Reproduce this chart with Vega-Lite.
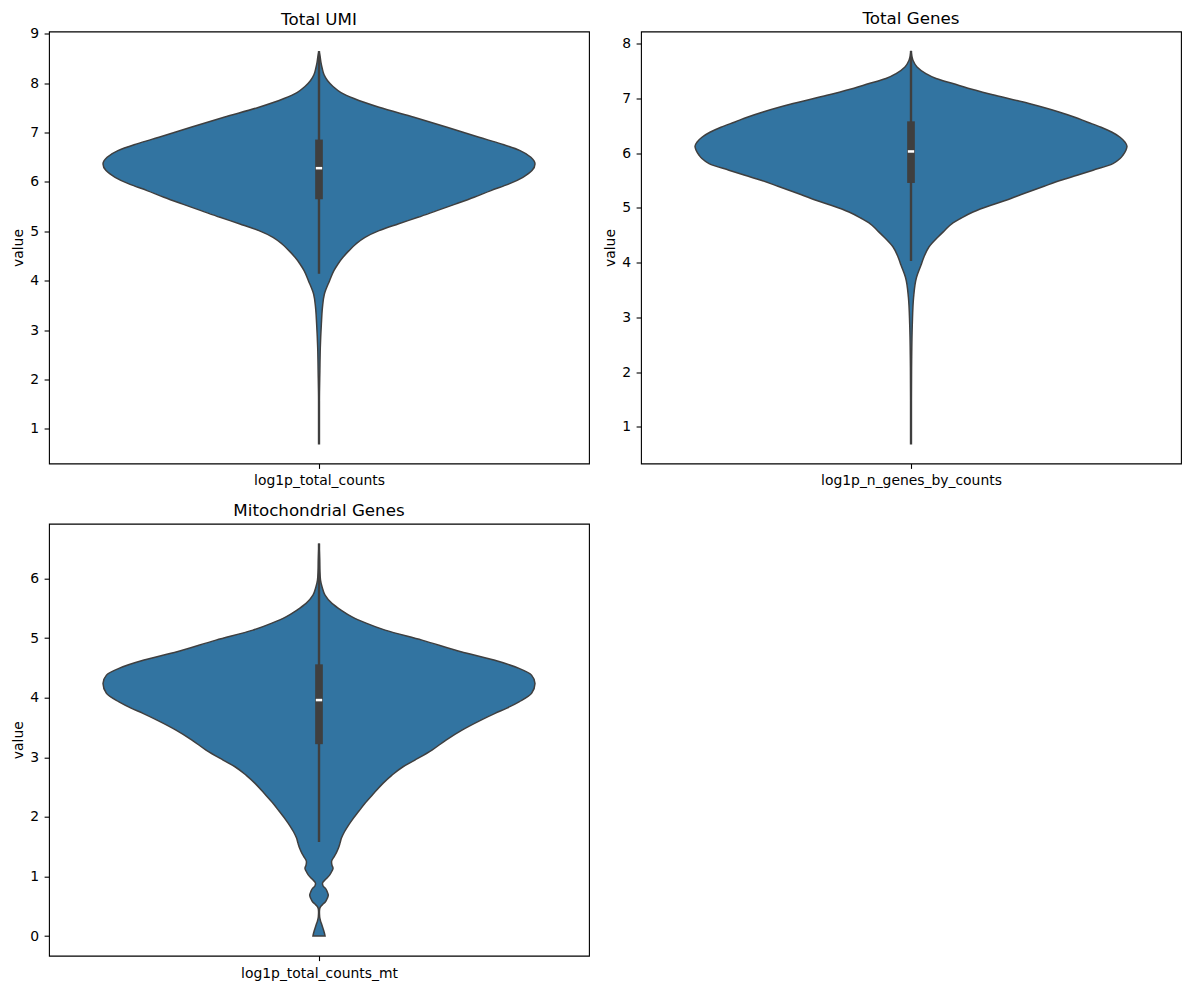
{
  "$schema": "https://vega.github.io/schema/vega-lite/v6.json",
  "background": "white",
  "padding": {"left": 10, "top": 10.5, "right": 5, "bottom": 5},
  "config": {
    "font": "DejaVu Sans",
    "view": {"stroke": "black", "strokeWidth": 1.1},
    "axis": {
      "labelFont": "DejaVu Sans", "labelFontSize": 13.9, "labelColor": "black", "labelLimit": 400,
      "tickColor": "black", "tickSize": 4.9, "tickWidth": 1.1, "labelPadding": 5.5,
      "domain": false, "grid": false,
      "titleFont": "DejaVu Sans", "titleFontSize": 13.9, "titleFontWeight": "normal", "titleColor": "black",
      "titlePadding": 4.5
    },
    "title": {"font": "DejaVu Sans", "fontSize": 16.7, "fontWeight": "normal", "color": "black", "offset": 3.6, "baseline": "alphabetic"}
  },
  "datasets": {
    "violin": [
      {"metric": "log1p_total_counts", "value": 8.651, "density": 0},
      {"metric": "log1p_total_counts", "value": 8.544, "density": 0.005},
      {"metric": "log1p_total_counts", "value": 8.422, "density": 0.009},
      {"metric": "log1p_total_counts", "value": 8.300, "density": 0.015},
      {"metric": "log1p_total_counts", "value": 8.178, "density": 0.023},
      {"metric": "log1p_total_counts", "value": 8.057, "density": 0.039},
      {"metric": "log1p_total_counts", "value": 7.935, "density": 0.065},
      {"metric": "log1p_total_counts", "value": 7.813, "density": 0.102},
      {"metric": "log1p_total_counts", "value": 7.692, "density": 0.162},
      {"metric": "log1p_total_counts", "value": 7.515, "density": 0.278},
      {"metric": "log1p_total_counts", "value": 7.312, "density": 0.440},
      {"metric": "log1p_total_counts", "value": 7.110, "density": 0.593},
      {"metric": "log1p_total_counts", "value": 6.907, "density": 0.741},
      {"metric": "log1p_total_counts", "value": 6.773, "density": 0.843},
      {"metric": "log1p_total_counts", "value": 6.637, "density": 0.931},
      {"metric": "log1p_total_counts", "value": 6.501, "density": 0.981},
      {"metric": "log1p_total_counts", "value": 6.367, "density": 1.0},
      {"metric": "log1p_total_counts", "value": 6.231, "density": 0.986},
      {"metric": "log1p_total_counts", "value": 6.095, "density": 0.944},
      {"metric": "log1p_total_counts", "value": 5.961, "density": 0.880},
      {"metric": "log1p_total_counts", "value": 5.826, "density": 0.796},
      {"metric": "log1p_total_counts", "value": 5.690, "density": 0.718},
      {"metric": "log1p_total_counts", "value": 5.556, "density": 0.634},
      {"metric": "log1p_total_counts", "value": 5.420, "density": 0.546},
      {"metric": "log1p_total_counts", "value": 5.284, "density": 0.458},
      {"metric": "log1p_total_counts", "value": 5.150, "density": 0.366},
      {"metric": "log1p_total_counts", "value": 5.014, "density": 0.278},
      {"metric": "log1p_total_counts", "value": 4.878, "density": 0.213},
      {"metric": "log1p_total_counts", "value": 4.744, "density": 0.171},
      {"metric": "log1p_total_counts", "value": 4.609, "density": 0.139},
      {"metric": "log1p_total_counts", "value": 4.473, "density": 0.111},
      {"metric": "log1p_total_counts", "value": 4.339, "density": 0.088},
      {"metric": "log1p_total_counts", "value": 4.203, "density": 0.069},
      {"metric": "log1p_total_counts", "value": 4.000, "density": 0.049},
      {"metric": "log1p_total_counts", "value": 3.730, "density": 0.025},
      {"metric": "log1p_total_counts", "value": 3.458, "density": 0.016},
      {"metric": "log1p_total_counts", "value": 3.128, "density": 0.011},
      {"metric": "log1p_total_counts", "value": 2.641, "density": 0.006},
      {"metric": "log1p_total_counts", "value": 2.174, "density": 0.004},
      {"metric": "log1p_total_counts", "value": 1.566, "density": 0.002},
      {"metric": "log1p_total_counts", "value": 0.693, "density": 0.002},

      {"metric": "log1p_n_genes_by_counts", "value": 7.865, "density": 0},
      {"metric": "log1p_n_genes_by_counts", "value": 7.695, "density": 0.009},
      {"metric": "log1p_n_genes_by_counts", "value": 7.573, "density": 0.028},
      {"metric": "log1p_n_genes_by_counts", "value": 7.452, "density": 0.069},
      {"metric": "log1p_n_genes_by_counts", "value": 7.361, "density": 0.116},
      {"metric": "log1p_n_genes_by_counts", "value": 7.270, "density": 0.194},
      {"metric": "log1p_n_genes_by_counts", "value": 7.184, "density": 0.264},
      {"metric": "log1p_n_genes_by_counts", "value": 7.056, "density": 0.389},
      {"metric": "log1p_n_genes_by_counts", "value": 6.905, "density": 0.546},
      {"metric": "log1p_n_genes_by_counts", "value": 6.751, "density": 0.685},
      {"metric": "log1p_n_genes_by_counts", "value": 6.660, "density": 0.755},
      {"metric": "log1p_n_genes_by_counts", "value": 6.569, "density": 0.815},
      {"metric": "log1p_n_genes_by_counts", "value": 6.472, "density": 0.880},
      {"metric": "log1p_n_genes_by_counts", "value": 6.380, "density": 0.931},
      {"metric": "log1p_n_genes_by_counts", "value": 6.289, "density": 0.968},
      {"metric": "log1p_n_genes_by_counts", "value": 6.198, "density": 0.991},
      {"metric": "log1p_n_genes_by_counts", "value": 6.125, "density": 1.0},
      {"metric": "log1p_n_genes_by_counts", "value": 6.052, "density": 0.995},
      {"metric": "log1p_n_genes_by_counts", "value": 5.961, "density": 0.981},
      {"metric": "log1p_n_genes_by_counts", "value": 5.900, "density": 0.968},
      {"metric": "log1p_n_genes_by_counts", "value": 5.809, "density": 0.935},
      {"metric": "log1p_n_genes_by_counts", "value": 5.687, "density": 0.843},
      {"metric": "log1p_n_genes_by_counts", "value": 5.595, "density": 0.769},
      {"metric": "log1p_n_genes_by_counts", "value": 5.504, "density": 0.694},
      {"metric": "log1p_n_genes_by_counts", "value": 5.395, "density": 0.616},
      {"metric": "log1p_n_genes_by_counts", "value": 5.261, "density": 0.523},
      {"metric": "log1p_n_genes_by_counts", "value": 5.139, "density": 0.440},
      {"metric": "log1p_n_genes_by_counts", "value": 5.048, "density": 0.370},
      {"metric": "log1p_n_genes_by_counts", "value": 4.925, "density": 0.287},
      {"metric": "log1p_n_genes_by_counts", "value": 4.810, "density": 0.231},
      {"metric": "log1p_n_genes_by_counts", "value": 4.714, "density": 0.190},
      {"metric": "log1p_n_genes_by_counts", "value": 4.591, "density": 0.157},
      {"metric": "log1p_n_genes_by_counts", "value": 4.469, "density": 0.125},
      {"metric": "log1p_n_genes_by_counts", "value": 4.286, "density": 0.083},
      {"metric": "log1p_n_genes_by_counts", "value": 4.104, "density": 0.060},
      {"metric": "log1p_n_genes_by_counts", "value": 3.952, "density": 0.046},
      {"metric": "log1p_n_genes_by_counts", "value": 3.737, "density": 0.026},
      {"metric": "log1p_n_genes_by_counts", "value": 3.368, "density": 0.012},
      {"metric": "log1p_n_genes_by_counts", "value": 2.875, "density": 0.006},
      {"metric": "log1p_n_genes_by_counts", "value": 2.218, "density": 0.003},
      {"metric": "log1p_n_genes_by_counts", "value": 1.487, "density": 0.002},
      {"metric": "log1p_n_genes_by_counts", "value": 0.693, "density": 0.002},

      {"metric": "log1p_total_counts_mt", "value": 6.589, "density": 0},
      {"metric": "log1p_total_counts_mt", "value": 6.309, "density": 0.003},
      {"metric": "log1p_total_counts_mt", "value": 6.141, "density": 0.004},
      {"metric": "log1p_total_counts_mt", "value": 5.973, "density": 0.007},
      {"metric": "log1p_total_counts_mt", "value": 5.861, "density": 0.014},
      {"metric": "log1p_total_counts_mt", "value": 5.721, "density": 0.028},
      {"metric": "log1p_total_counts_mt", "value": 5.582, "density": 0.060},
      {"metric": "log1p_total_counts_mt", "value": 5.470, "density": 0.102},
      {"metric": "log1p_total_counts_mt", "value": 5.357, "density": 0.153},
      {"metric": "log1p_total_counts_mt", "value": 5.252, "density": 0.218},
      {"metric": "log1p_total_counts_mt", "value": 5.134, "density": 0.306},
      {"metric": "log1p_total_counts_mt", "value": 4.966, "density": 0.477},
      {"metric": "log1p_total_counts_mt", "value": 4.770, "density": 0.657},
      {"metric": "log1p_total_counts_mt", "value": 4.631, "density": 0.810},
      {"metric": "log1p_total_counts_mt", "value": 4.492, "density": 0.926},
      {"metric": "log1p_total_counts_mt", "value": 4.379, "density": 0.984},
      {"metric": "log1p_total_counts_mt", "value": 4.240, "density": 1.0},
      {"metric": "log1p_total_counts_mt", "value": 4.072, "density": 0.984},
      {"metric": "log1p_total_counts_mt", "value": 3.931, "density": 0.926},
      {"metric": "log1p_total_counts_mt", "value": 3.826, "density": 0.870},
      {"metric": "log1p_total_counts_mt", "value": 3.737, "density": 0.815},
      {"metric": "log1p_total_counts_mt", "value": 3.624, "density": 0.750},
      {"metric": "log1p_total_counts_mt", "value": 3.456, "density": 0.662},
      {"metric": "log1p_total_counts_mt", "value": 3.289, "density": 0.588},
      {"metric": "log1p_total_counts_mt", "value": 3.121, "density": 0.523},
      {"metric": "log1p_total_counts_mt", "value": 2.953, "density": 0.444},
      {"metric": "log1p_total_counts_mt", "value": 2.841, "density": 0.389},
      {"metric": "log1p_total_counts_mt", "value": 2.701, "density": 0.338},
      {"metric": "log1p_total_counts_mt", "value": 2.562, "density": 0.296},
      {"metric": "log1p_total_counts_mt", "value": 2.399, "density": 0.255},
      {"metric": "log1p_total_counts_mt", "value": 2.227, "density": 0.213},
      {"metric": "log1p_total_counts_mt", "value": 2.097, "density": 0.185},
      {"metric": "log1p_total_counts_mt", "value": 1.946, "density": 0.153},
      {"metric": "log1p_total_counts_mt", "value": 1.846, "density": 0.134},
      {"metric": "log1p_total_counts_mt", "value": 1.750, "density": 0.118},
      {"metric": "log1p_total_counts_mt", "value": 1.644, "density": 0.104},
      {"metric": "log1p_total_counts_mt", "value": 1.555, "density": 0.097},
      {"metric": "log1p_total_counts_mt", "value": 1.477, "density": 0.090},
      {"metric": "log1p_total_counts_mt", "value": 1.388, "density": 0.079},
      {"metric": "log1p_total_counts_mt", "value": 1.326, "density": 0.069},
      {"metric": "log1p_total_counts_mt", "value": 1.247, "density": 0.058},
      {"metric": "log1p_total_counts_mt", "value": 1.191, "density": 0.060},
      {"metric": "log1p_total_counts_mt", "value": 1.136, "density": 0.065},
      {"metric": "log1p_total_counts_mt", "value": 1.091, "density": 0.060},
      {"metric": "log1p_total_counts_mt", "value": 1.023, "density": 0.049},
      {"metric": "log1p_total_counts_mt", "value": 0.956, "density": 0.032},
      {"metric": "log1p_total_counts_mt", "value": 0.884, "density": 0.016},
      {"metric": "log1p_total_counts_mt", "value": 0.839, "density": 0.019},
      {"metric": "log1p_total_counts_mt", "value": 0.800, "density": 0.030},
      {"metric": "log1p_total_counts_mt", "value": 0.743, "density": 0.038},
      {"metric": "log1p_total_counts_mt", "value": 0.688, "density": 0.043},
      {"metric": "log1p_total_counts_mt", "value": 0.638, "density": 0.039},
      {"metric": "log1p_total_counts_mt", "value": 0.576, "density": 0.030},
      {"metric": "log1p_total_counts_mt", "value": 0.537, "density": 0.019},
      {"metric": "log1p_total_counts_mt", "value": 0.492, "density": 0.007},
      {"metric": "log1p_total_counts_mt", "value": 0.453, "density": 0.003},
      {"metric": "log1p_total_counts_mt", "value": 0.403, "density": 0.002},
      {"metric": "log1p_total_counts_mt", "value": 0.324, "density": 0.003},
      {"metric": "log1p_total_counts_mt", "value": 0.285, "density": 0.005},
      {"metric": "log1p_total_counts_mt", "value": 0.240, "density": 0.008},
      {"metric": "log1p_total_counts_mt", "value": 0.201, "density": 0.012},
      {"metric": "log1p_total_counts_mt", "value": 0.156, "density": 0.016},
      {"metric": "log1p_total_counts_mt", "value": 0.101, "density": 0.021},
      {"metric": "log1p_total_counts_mt", "value": 0.050, "density": 0.025},
      {"metric": "log1p_total_counts_mt", "value": 0.0, "density": 0.028}
    ],
    "box": [
      {"metric": "log1p_total_counts", "whislo": 4.14, "q1": 5.65, "median": 6.28, "q3": 6.86, "whishi": 8.651},
      {"metric": "log1p_n_genes_by_counts", "whislo": 4.03, "q1": 5.455, "median": 6.03, "q3": 6.58, "whishi": 7.865},
      {"metric": "log1p_total_counts_mt", "whislo": 1.58, "q1": 3.22, "median": 3.96, "q3": 4.56, "whishi": 6.589}
    ]
  },
  "vconcat": [
    {
      "hconcat": [
        {
          "title": {"text": "Total UMI", "offset": -1.4},
          "width": 540, "height": 432,
          "layer": [
            {
              "data": {"name": "violin"},
              "transform": [{"filter": "datum.metric === 'log1p_total_counts'"}],
              "mark": {"type": "area", "orient": "horizontal", "interpolate": "monotone", "fill": "#3274a1", "stroke": "#3f3f3f", "strokeWidth": 1.5},
              "encoding": {
                "y": {"field": "value", "type": "quantitative", "scale": {"domain": [0.295, 9.05], "nice": false, "zero": false}, "axis": {"values": [1, 2, 3, 4, 5, 6, 7, 8, 9], "title": "value"}},
                "x": {"field": "density", "type": "quantitative", "stack": "center", "scale": {"domain": [-0.125, 1.125], "nice": false, "zero": false}, "axis": {"values": [0.5], "labelExpr": "'log1p_total_counts'", "title": null}}
              }
            },
            {
              "data": {"name": "box"},
              "transform": [{"filter": "datum.metric === 'log1p_total_counts'"}],
              "mark": {"type": "rule", "color": "#3f3f3f", "strokeWidth": 2.4},
              "encoding": {
                "y": {"field": "whislo", "type": "quantitative", "scale": {"domain": [0.295, 9.05], "nice": false, "zero": false}, "axis": {"values": [1, 2, 3, 4, 5, 6, 7, 8, 9], "title": "value"}},
                "y2": {"field": "whishi"},
                "x": {"datum": 0.5, "type": "quantitative", "scale": {"domain": [-0.125, 1.125], "nice": false, "zero": false}, "axis": {"values": [0.5], "labelExpr": "'log1p_total_counts'", "title": null}}
              }
            },
            {
              "data": {"name": "box"},
              "transform": [{"filter": "datum.metric === 'log1p_total_counts'"}],
              "mark": {"type": "rule", "color": "#3f3f3f", "strokeWidth": 7.7},
              "encoding": {
                "y": {"field": "q1", "type": "quantitative", "scale": {"domain": [0.295, 9.05], "nice": false, "zero": false}, "axis": {"values": [1, 2, 3, 4, 5, 6, 7, 8, 9], "title": "value"}},
                "y2": {"field": "q3"},
                "x": {"datum": 0.5, "type": "quantitative", "scale": {"domain": [-0.125, 1.125], "nice": false, "zero": false}, "axis": {"values": [0.5], "labelExpr": "'log1p_total_counts'", "title": null}}
              }
            },
            {
              "data": {"name": "box"},
              "transform": [{"filter": "datum.metric === 'log1p_total_counts'"}],
              "mark": {"type": "point", "shape": "M-1,-0.4L1,-0.4L1,0.4L-1,0.4Z", "size": 40, "filled": true, "color": "white", "opacity": 1},
              "encoding": {
                "y": {"field": "median", "type": "quantitative", "scale": {"domain": [0.295, 9.05], "nice": false, "zero": false}, "axis": {"values": [1, 2, 3, 4, 5, 6, 7, 8, 9], "title": "value"}},
                "x": {"datum": 0.5, "type": "quantitative", "scale": {"domain": [-0.125, 1.125], "nice": false, "zero": false}, "axis": {"values": [0.5], "labelExpr": "'log1p_total_counts'", "title": null}}
              }
            }
          ]
        },
        {
          "title": {"text": "Total Genes", "offset": 3.6},
          "width": 540, "height": 432,
          "layer": [
            {
              "data": {"name": "violin"},
              "transform": [{"filter": "datum.metric === 'log1p_n_genes_by_counts'"}],
              "mark": {"type": "area", "orient": "horizontal", "interpolate": "monotone", "fill": "#3274a1", "stroke": "#3f3f3f", "strokeWidth": 1.5},
              "encoding": {
                "y": {"field": "value", "type": "quantitative", "scale": {"domain": [0.333, 8.22], "nice": false, "zero": false}, "axis": {"values": [1, 2, 3, 4, 5, 6, 7, 8], "title": "value"}},
                "x": {"field": "density", "type": "quantitative", "stack": "center", "scale": {"domain": [-0.125, 1.125], "nice": false, "zero": false}, "axis": {"values": [0.5], "labelExpr": "'log1p_n_genes_by_counts'", "title": null}}
              }
            },
            {
              "data": {"name": "box"},
              "transform": [{"filter": "datum.metric === 'log1p_n_genes_by_counts'"}],
              "mark": {"type": "rule", "color": "#3f3f3f", "strokeWidth": 2.4},
              "encoding": {
                "y": {"field": "whislo", "type": "quantitative", "scale": {"domain": [0.333, 8.22], "nice": false, "zero": false}, "axis": {"values": [1, 2, 3, 4, 5, 6, 7, 8], "title": "value"}},
                "y2": {"field": "whishi"},
                "x": {"datum": 0.5, "type": "quantitative", "scale": {"domain": [-0.125, 1.125], "nice": false, "zero": false}, "axis": {"values": [0.5], "labelExpr": "'log1p_n_genes_by_counts'", "title": null}}
              }
            },
            {
              "data": {"name": "box"},
              "transform": [{"filter": "datum.metric === 'log1p_n_genes_by_counts'"}],
              "mark": {"type": "rule", "color": "#3f3f3f", "strokeWidth": 7.7},
              "encoding": {
                "y": {"field": "q1", "type": "quantitative", "scale": {"domain": [0.333, 8.22], "nice": false, "zero": false}, "axis": {"values": [1, 2, 3, 4, 5, 6, 7, 8], "title": "value"}},
                "y2": {"field": "q3"},
                "x": {"datum": 0.5, "type": "quantitative", "scale": {"domain": [-0.125, 1.125], "nice": false, "zero": false}, "axis": {"values": [0.5], "labelExpr": "'log1p_n_genes_by_counts'", "title": null}}
              }
            },
            {
              "data": {"name": "box"},
              "transform": [{"filter": "datum.metric === 'log1p_n_genes_by_counts'"}],
              "mark": {"type": "point", "shape": "M-1,-0.4L1,-0.4L1,0.4L-1,0.4Z", "size": 40, "filled": true, "color": "white", "opacity": 1},
              "encoding": {
                "y": {"field": "median", "type": "quantitative", "scale": {"domain": [0.333, 8.22], "nice": false, "zero": false}, "axis": {"values": [1, 2, 3, 4, 5, 6, 7, 8], "title": "value"}},
                "x": {"datum": 0.5, "type": "quantitative", "scale": {"domain": [-0.125, 1.125], "nice": false, "zero": false}, "axis": {"values": [0.5], "labelExpr": "'log1p_n_genes_by_counts'", "title": null}}
              }
            }
          ]
        }
      ],
      "spacing": 12
    },
    {
      "hconcat": [
        {
          "title": {"text": "Mitochondrial Genes", "offset": 3.6},
          "width": 540, "height": 432,
          "layer": [
            {
              "data": {"name": "violin"},
              "transform": [{"filter": "datum.metric === 'log1p_total_counts_mt'"}],
              "mark": {"type": "area", "orient": "horizontal", "interpolate": "monotone", "fill": "#3274a1", "stroke": "#3f3f3f", "strokeWidth": 1.5},
              "encoding": {
                "y": {"field": "value", "type": "quantitative", "scale": {"domain": [-0.33, 6.92], "nice": false, "zero": false}, "axis": {"values": [0, 1, 2, 3, 4, 5, 6], "title": "value"}},
                "x": {"field": "density", "type": "quantitative", "stack": "center", "scale": {"domain": [-0.125, 1.125], "nice": false, "zero": false}, "axis": {"values": [0.5], "labelExpr": "'log1p_total_counts_mt'", "title": null}}
              }
            },
            {
              "data": {"name": "box"},
              "transform": [{"filter": "datum.metric === 'log1p_total_counts_mt'"}],
              "mark": {"type": "rule", "color": "#3f3f3f", "strokeWidth": 2.4},
              "encoding": {
                "y": {"field": "whislo", "type": "quantitative", "scale": {"domain": [-0.33, 6.92], "nice": false, "zero": false}, "axis": {"values": [0, 1, 2, 3, 4, 5, 6], "title": "value"}},
                "y2": {"field": "whishi"},
                "x": {"datum": 0.5, "type": "quantitative", "scale": {"domain": [-0.125, 1.125], "nice": false, "zero": false}, "axis": {"values": [0.5], "labelExpr": "'log1p_total_counts_mt'", "title": null}}
              }
            },
            {
              "data": {"name": "box"},
              "transform": [{"filter": "datum.metric === 'log1p_total_counts_mt'"}],
              "mark": {"type": "rule", "color": "#3f3f3f", "strokeWidth": 7.7},
              "encoding": {
                "y": {"field": "q1", "type": "quantitative", "scale": {"domain": [-0.33, 6.92], "nice": false, "zero": false}, "axis": {"values": [0, 1, 2, 3, 4, 5, 6], "title": "value"}},
                "y2": {"field": "q3"},
                "x": {"datum": 0.5, "type": "quantitative", "scale": {"domain": [-0.125, 1.125], "nice": false, "zero": false}, "axis": {"values": [0.5], "labelExpr": "'log1p_total_counts_mt'", "title": null}}
              }
            },
            {
              "data": {"name": "box"},
              "transform": [{"filter": "datum.metric === 'log1p_total_counts_mt'"}],
              "mark": {"type": "point", "shape": "M-1,-0.4L1,-0.4L1,0.4L-1,0.4Z", "size": 40, "filled": true, "color": "white", "opacity": 1},
              "encoding": {
                "y": {"field": "median", "type": "quantitative", "scale": {"domain": [-0.33, 6.92], "nice": false, "zero": false}, "axis": {"values": [0, 1, 2, 3, 4, 5, 6], "title": "value"}},
                "x": {"datum": 0.5, "type": "quantitative", "scale": {"domain": [-0.125, 1.125], "nice": false, "zero": false}, "axis": {"values": [0.5], "labelExpr": "'log1p_total_counts_mt'", "title": null}}
              }
            }
          ]
        }
      ]
    }
  ],
  "spacing": 14.2
}
